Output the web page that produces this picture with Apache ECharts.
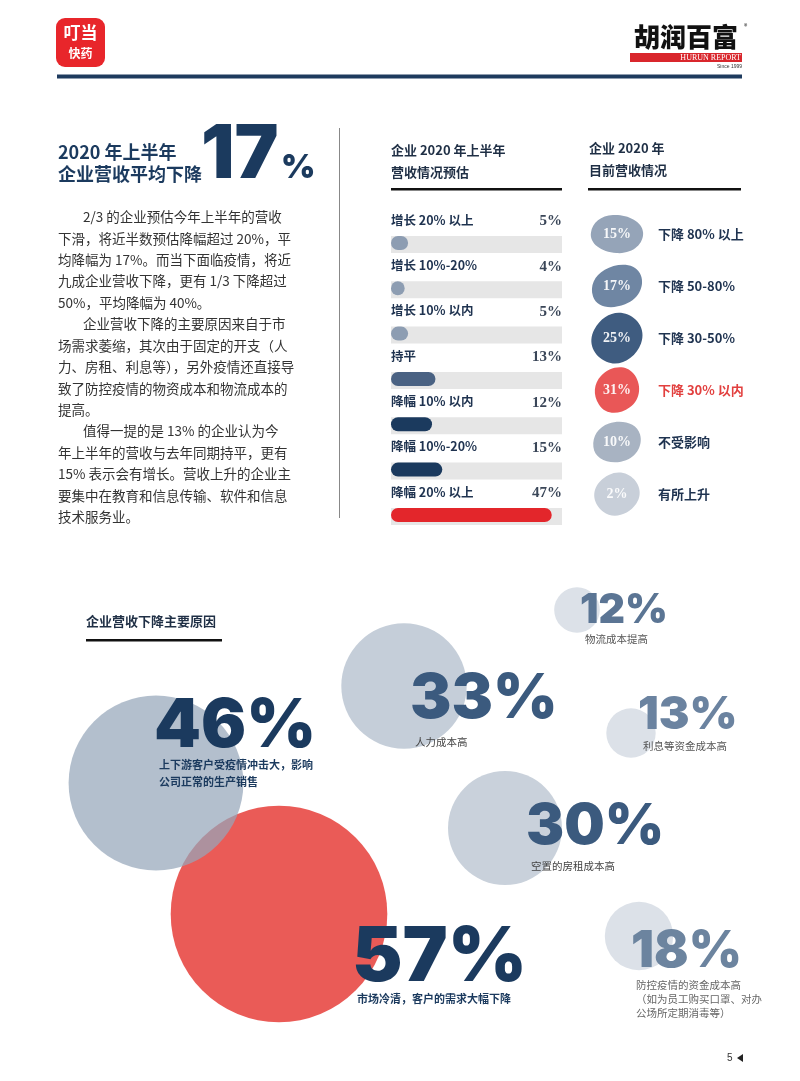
<!DOCTYPE html>
<html><head><meta charset="utf-8">
<script src="https://cdn.jsdelivr.net/npm/echarts@6/dist/echarts.min.js"></script>
<style>html,body{margin:0;padding:0;background:#fff}#c{width:800px;height:1081px}</style>
</head><body><div id="c"></div>
<script>
// ---------- DATA ----------
const forecastCats = ['增长 20% 以上','增长 10%-20%','增长 10% 以内','持平','降幅 10% 以内','降幅 10%-20%','降幅 20% 以上'];
const forecastValues = [5,4,5,13,12,15,47];
const currentCats = ['下降 80% 以上','下降 50-80%','下降 30-50%','下降 30% 以内','不受影响','有所上升'];
const currentValues = [15,17,25,31,10,2];
const reasonValues = [57,46,33,12,13,30,18];
const reasonLabels = ['市场冷清，客户的需求大幅下降','上下游客户受疫情冲击大，影响\n公司正常的生产销售','人力成本高','物流成本提高','利息等资金成本高','空置的房租成本高','防控疫情的资金成本高\n（如为员工购买口罩、对办\n公场所定期消毒等）'];
const bodyLines = [
 ['2/3 的企业预估今年上半年的营收',1],['下滑，将近半数预估降幅超过 20%，平',0],['均降幅为 17%。而当下面临疫情，将近',0],
 ['九成企业营收下降，更有 1/3 下降超过',0],['50%，平均降幅为 40%。',0],['企业营收下降的主要原因来自于市',1],
 ['场需求萎缩，其次由于固定的开支（人',0],['力、房租、利息等），另外疫情还直接导',0],['致了防控疫情的物资成本和物流成本的',0],
 ['提高。',0],['值得一提的是 13% 的企业认为今',1],['年上半年的营收与去年同期持平，更有',0],
 ['15% 表示会有增长。营收上升的企业主',0],['要集中在教育和信息传输、软件和信息',0],['技术服务业。',0]
];

// ---------- LAYOUT / STYLE ----------
const CJK = '"Noto Sans CJK SC", sans-serif';
const HEAVY = 'Inter, Roboto, "Noto Sans", sans-serif';
const NAVY = '#1b3a5e';
const barColors = ['#8d9db2','#8d9db2','#8d9db2','#4a6283','#1b3a5e','#1b3a5e','#e3262b'];
const blobColors = ['#95a4b8','#6f86a3','#3f5c80','#e95757','#a8b3c2','#c8cfd9'];
const blobShapes = [[52,38,-8],[52,40,18],[48,52,-28],[46,43,32],[48,40,6],[42,45,-42]];
const blobPath = 'path://M38,4 C62,-3 94,8 98,38 C102,66 84,96 54,98 C26,100 2,84 2,56 C2,30 16,10 38,4 Z';
const bubbleLayout = [
 {pos:[279,914], fill:'#ea5b57', num:NAVY, fs:76, tx:353, cap:958, desc:999, dc:NAVY, dw:'bold', dfs:11, dlh:17},
 {pos:[156,783], fill:'rgba(150,166,186,0.72)', num:NAVY, fs:67, tx:155, cap:727, desc:765, dc:NAVY, dw:'bold', dfs:11, dlh:17},
 {pos:[404,686], fill:'#c5ced9', num:'#3b5a7e', fs:62, tx:411, cap:699, desc:742, dc:'#444', dw:'normal', dfs:10.5, dlh:15},
 {pos:[577,610], fill:'#dce1e8', num:'#5b7594', fs:41, tx:581, cap:611, desc:639, dc:'#555', dw:'normal', dfs:10.5, dlh:15},
 {pos:[631,733], fill:'#dce1e8', num:'#6b83a0', fs:46, tx:639, cap:715, desc:746, dc:'#555', dw:'normal', dfs:10.5, dlh:15},
 {pos:[505,828], fill:'#c9d1db', num:'#3b5a7e', fs:57, tx:527, cap:827, desc:866, dc:'#444', dw:'normal', dfs:10.5, dlh:15},
 {pos:[639,936], fill:'#dce1e8', num:'#6c849f', fs:51, tx:632, cap:952, desc:985, dc:'#666', dw:'normal', dfs:10.5, dlh:14}
];
const BUBBLE_K = 3.8;
const BAR_MAX = 50;

// ---------- build ----------
const chart = echarts.init(document.getElementById('c'), null, {renderer:'canvas'});

function txt(text, x, y, opt) {
  return {type:'text', silent:true, style:Object.assign({text, x, y, verticalAlign:'middle', align:'left', fill:'#333', fontFamily:CJK, fontSize:13}, opt||{})};
}
const graphics = [
  {type:'rect', shape:{x:56,y:18,width:49,height:49,r:9}, style:{fill:'#e8262b'}},
  txt('叮当', 80.5, 33, {align:'center', fill:'#fff', fontSize:17, fontWeight:'bold'}),
  txt('快药', 80.5, 53, {align:'center', fill:'#fff', fontSize:12, fontWeight:'bold'}),
  txt('胡润百富', 686, 37, {align:'center', fill:'#111', fontSize:26, fontWeight:900}),
  txt('®', 744, 26, {fill:'#111', fontSize:7}),
  {type:'rect', shape:{x:630,y:53,width:112,height:9}, style:{fill:'#d9262c'}},
  txt('HURUN REPORT', 741, 57.8, {align:'right', fill:'#fff', fontSize:8, fontFamily:'"Liberation Serif", serif'}),
  txt('Since 1999', 742, 67, {align:'right', fill:'#333', fontSize:5, fontFamily:'"Liberation Sans", sans-serif'}),
  {type:'rect', shape:{x:57,y:74.5,width:685,height:4}, style:{fill:'#1e3b5e'}},
  txt('2020 年上半年', 58, 152, {fill:NAVY, fontSize:18, fontWeight:'bold'}),
  txt('企业营收平均下降', 58, 174, {fill:NAVY, fontSize:18, fontWeight:'bold'}),
  txt('17', 201, 156, {fill:NAVY, fontSize:74, fontWeight:900, fontFamily:HEAVY}),
  txt('%', 281, 168, {fill:NAVY, fontSize:33, fontWeight:900, fontFamily:HEAVY}),
  {type:'line', shape:{x1:339.5,y1:128,x2:339.5,y2:518}, style:{stroke:'#888', lineWidth:1}},
  txt('企业 2020 年上半年', 391, 150.5, {fill:'#1f2f45', fontWeight:'bold'}),
  txt('营收情况预估', 391, 172, {fill:'#1f2f45', fontWeight:'bold'}),
  {type:'rect', shape:{x:391,y:188,width:171,height:2.5}, style:{fill:'#111'}},
  txt('企业 2020 年', 589, 148, {fill:'#1f2f45', fontWeight:'bold'}),
  txt('目前营收情况', 589, 170, {fill:'#1f2f45', fontWeight:'bold'}),
  {type:'rect', shape:{x:588,y:188,width:153,height:2.5}, style:{fill:'#111'}},
  txt('企业营收下降主要原因', 86, 621, {fill:'#1f2f45', fontWeight:'bold'}),
  {type:'rect', shape:{x:86,y:639,width:136,height:2.5}, style:{fill:'#111'}},
  txt('5', 727, 1058, {fill:'#333', fontSize:10, fontFamily:'"Liberation Sans", sans-serif'}),
  {type:'polygon', shape:{points:[[743,1054],[743,1062],[737,1058]]}, style:{fill:'#222'}}
];
bodyLines.forEach((l, i) => {
  graphics.push(txt(l[0], l[1] ? 83 : 58, 217 + i * 21.43, {fill:'#333', fontSize:13.5}));
});

const bubbleData = reasonValues.map((v, i) => {
  const b = bubbleLayout[i];
  const s = v * BUBBLE_K;
  const L = 2 * (b.desc - b.cap - b.dlh / 2);
  const lineTop = b.cap - L / 2;
  const lines = reasonLabels[i].split('\n');
  return {
    value: b.pos,
    symbolSize: s,
    itemStyle: {color: b.fill, opacity: 1},
    label: {
      show: true,
      position: [b.tx - 1 - (b.pos[0] - s / 2), lineTop - (b.pos[1] - s / 2)],
      align: 'left', verticalAlign: 'top',
      formatter: () => `{n|${v}%}\n` + lines.map(t => `{d|${t}}`).join('\n'),
      rich: {
        n: {fontFamily: HEAVY, fontWeight: 900, fontSize: b.fs, color: b.num, lineHeight: L},
        d: {fontFamily: CJK, fontWeight: b.dw, fontSize: b.dfs, color: b.dc, lineHeight: b.dlh, padding: [0, 0, 0, 5]}
      }
    }
  };
});

const option = {
  animation: false,
  backgroundColor: '#fff',
  graphic: graphics,
  grid: [
    {left:391, top:220.3, width:171, height:317.3},
    {left:594, top:208, width:46, height:312},
    {left:0, top:0, width:800, height:1081}
  ],
  xAxis: [
    {gridIndex:0, type:'value', min:0, max:BAR_MAX, show:false},
    {gridIndex:1, type:'value', min:-1, max:1, show:false},
    {gridIndex:2, type:'value', min:0, max:800, show:false}
  ],
  yAxis: [
    {gridIndex:0, type:'category', data:forecastCats, inverse:true, show:false},
    {gridIndex:1, type:'category', data:currentCats, inverse:true, position:'right',
      axisLine:{show:false}, axisTick:{show:false}, splitLine:{show:false},
      axisLabel:{margin:18, align:'left',
        formatter:(v, i) => i === 3 ? `{r|${v}}` : `{b|${v}}`,
        rich:{b:{color:'#1f3350', fontWeight:'bold', fontSize:13, fontFamily:CJK},
              r:{color:'#e2403f', fontWeight:'bold', fontSize:13, fontFamily:CJK}}}},
    {gridIndex:2, type:'value', min:0, max:1081, inverse:true, show:false}
  ],
  series: [
    {type:'bar', xAxisIndex:0, yAxisIndex:0, silent:true, z:1,
      data: forecastCats.map(() => BAR_MAX), barWidth:17, barGap:'-100%',
      itemStyle:{color:'#e6e6e6'},
      label:{show:true, position:['100%', -14.5], align:'right', verticalAlign:'middle',
        formatter: p => forecastValues[p.dataIndex] + '%',
        fontFamily:'"Liberation Serif", serif', fontWeight:'bold', fontSize:15, color:'#3a4658'}},
    {type:'bar', xAxisIndex:0, yAxisIndex:0, z:2, barWidth:14, barGap:'-100%',
      data: forecastValues.map((v, i) => ({value:v, itemStyle:{color:barColors[i]}})),
      itemStyle:{borderRadius:7},
      label:{show:true, position:[0, -16], align:'left', verticalAlign:'middle',
        formatter: p => forecastCats[p.dataIndex],
        fontFamily:CJK, fontWeight:'bold', fontSize:12.5, color:'#1f3350'}},
    {type:'scatter', xAxisIndex:1, yAxisIndex:1, symbol:blobPath,
      data: currentValues.map((v, i) => ({value:[0, i], symbolSize:[blobShapes[i][0], blobShapes[i][1]],
        symbolRotate:blobShapes[i][2], itemStyle:{color:blobColors[i], opacity:1}})),
      label:{show:true, position:'inside', formatter: p => currentValues[p.dataIndex] + '%',
        fontFamily:'"Liberation Serif", serif', fontWeight:'bold', fontSize:14, color:'rgba(255,255,255,0.92)'}},
    {type:'scatter', xAxisIndex:2, yAxisIndex:2, symbol:'circle', data: bubbleData}
  ]
};
chart.setOption(option);
</script></body></html>
